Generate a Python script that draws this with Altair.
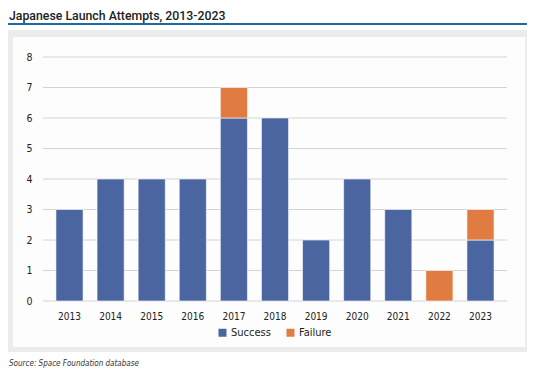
import altair as alt
import pandas as pd

# ---- data ----
years = ["2013", "2014", "2015", "2016", "2017", "2018", "2019", "2020", "2021", "2022", "2023"]
success = [3, 4, 4, 4, 6, 6, 2, 4, 3, 0, 2]
failure = [0, 0, 0, 0, 1, 0, 0, 0, 0, 1, 1]
statuses = ["Success", "Failure"]
colors = ["#4a65a0", "#e07b41"]
y_ticks = [0, 1, 2, 3, 4, 5, 6, 7, 8]

title_text = "Japanese Launch Attempts, 2013-2023"
source_text = "Source: Space Foundation database"

rows = []
for i, y in enumerate(years):
    for k, (s, v) in enumerate(zip(statuses, [success[i], failure[i]])):
        if v > 0:
            rows.append({"year": y, "status": s, "count": v, "ord": k})
df = pd.DataFrame(rows)
grid_df = pd.DataFrame({"tick": y_ticks})
one = pd.DataFrame({"a": [0]})

NARROW = "Liberation Sans Narrow, DejaVu Sans Condensed, sans-serif"

y_axis = alt.Axis(values=y_ticks, ticks=False, domain=False, grid=False,
                  labelPadding=11, labelFont=NARROW, labelFontSize=10.5,
                  labelColor="#222222", zindex=1, title=None)
y_scale = alt.Scale(domain=[0, 8], nice=False)

# ---- decoration ----
gray_panel = alt.Chart(one).mark_rect(color="#ececec").encode(
    x=alt.value(-37), x2=alt.value(490), y=alt.value(-27), y2=alt.value(295)
)
white_panel = alt.Chart(one).mark_rect(color="#fdfdfd").encode(
    x=alt.value(-30), x2=alt.value(482), y=alt.value(-20), y2=alt.value(290)
)
title_rule = alt.Chart(one).mark_rule(color="#1f6aa0", strokeWidth=2).encode(
    x=alt.value(-36), x2=alt.value(488), y=alt.value(-33)
)
title = alt.Chart(one).mark_text(
    text=title_text, font="Roboto", fontSize=12.3, fontWeight=500,
    color="#222222", align="left", baseline="alphabetic"
).encode(x=alt.value(-34), y=alt.value(-37.5))
source = alt.Chart(one).mark_text(
    text=source_text, font=NARROW, fontSize=8, fontStyle="italic",
    color="#333333", align="left", baseline="alphabetic"
).encode(x=alt.value(-34), y=alt.value(308.5))

# ---- gridlines ----
grid = alt.Chart(grid_df).mark_rule(color="#d4d4d4", strokeWidth=1).encode(
    y=alt.Y("tick:Q", axis=y_axis, scale=y_scale, title=None)
)

# ---- bars ----
bars = alt.Chart(df).mark_bar(stroke="#ffffff", strokeWidth=0.6).encode(
    x=alt.X("year:O", sort=years, title=None,
            scale=alt.Scale(paddingInner=0.34, paddingOuter=0.315),
            axis=alt.Axis(labelAngle=0, ticks=False, domain=False, grid=False,
                          labelPadding=10, labelFont=NARROW, labelFontSize=10,
                          labelColor="#222222", zindex=1)),
    y=alt.Y("count:Q", stack="zero", title=None, scale=y_scale, axis=y_axis),
    color=alt.Color("status:N", title=None,
                    scale=alt.Scale(domain=statuses, range=colors),
                    legend=alt.Legend(orient="none", legendX=174, legendY=270,
                                      direction="horizontal", symbolType="square",
                                      symbolSize=64, symbolStrokeWidth=0,
                                      labelFont=NARROW, labelFontSize=11,
                                      labelColor="#222222", labelOffset=3,
                                      columnPadding=14, padding=0)),
    order=alt.Order("ord:Q", sort="ascending"),
)

chart = alt.layer(gray_panel, white_panel, title_rule, grid, bars, title, source).properties(
    width=464,
    height=244,
    padding={"left": 35, "top": 49, "right": 20, "bottom": 67},
    autosize=alt.AutoSizeParams(type="none"),
).configure_view(stroke=None).configure(background="#ffffff")

chart.save("out.html", embed_options={"renderer": "svg", "actions": False})
